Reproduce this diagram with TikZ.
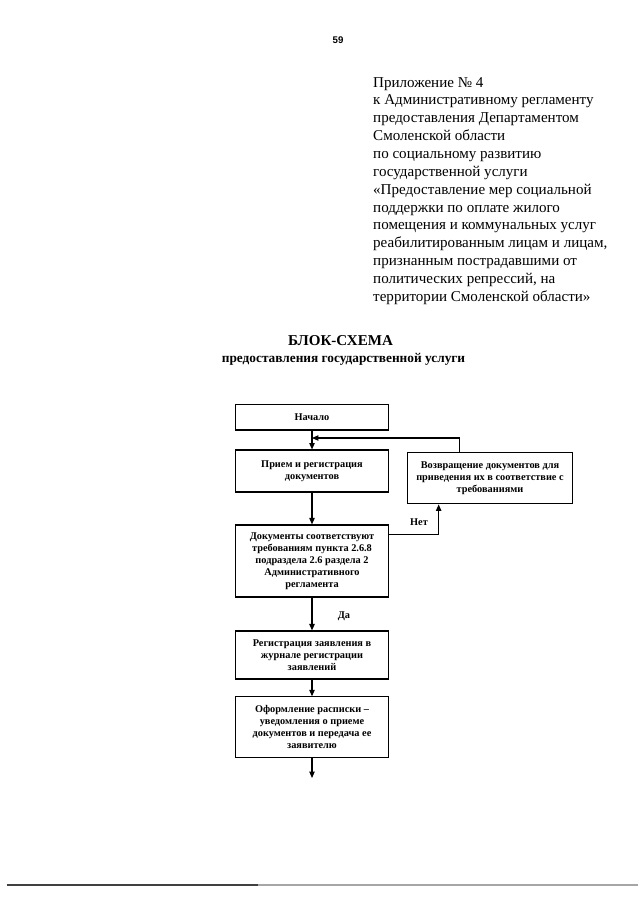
\documentclass[tikz,border=0pt]{standalone}
\usepackage{fontspec}
\setmainfont{Liberation Serif}
\newfontfamily\pagenumfont{Liberation Sans}
\usetikzlibrary{arrows.meta,positioning,calc}
\begin{document}
\begin{tikzpicture}[x=0.9301pt,y=-0.9301pt,
  box/.style={draw,line width=1.1pt,rectangle,inner sep=2pt,align=center,
    font=\fontsize{9.6}{11.2}\selectfont\bfseries,minimum width=142pt},
  arr/.style={line width=1pt,-{Triangle[length=6pt,width=5pt]}},
  lbl/.style={font=\fontsize{9.6}{12}\selectfont\bfseries,inner sep=0pt}]
\useasboundingbox (0,0) rectangle (640,905);
\fill[white] (0,0) rectangle (640,905);

% page number
\node[font=\pagenumfont\fontsize{9}{10}\selectfont\bfseries,inner sep=0pt] (pnum) at (338,40) {59};

% appendix text
\node[anchor=north west,inner sep=0pt,align=left,font=\fontsize{14}{16.6}\selectfont] (appx) at (373,77)
{Приложение № 4\\
к Административному регламенту\\
предоставления Департаментом\\
Смоленской области\\
по социальному развитию\\
государственной услуги\\
«Предоставление мер социальной\\
поддержки по оплате жилого\\
помещения и коммунальных услуг\\
реабилитированным лицам и лицам,\\
признанным пострадавшими от\\
политических репрессий, на\\
территории Смоленской области»};

% title
\node[font=\fontsize{14}{16}\selectfont\bfseries,inner sep=0pt] (title) at (340.5,341) {БЛОК-СХЕМА};
\node[font=\fontsize{12.4}{14}\selectfont\bfseries,inner sep=0pt] (subtitle) at (343.5,359) {предоставления государственной услуги};

% boxes
\node[box,minimum height=24pt] (start) at (312,417) {Начало};
\node[box,minimum height=39pt] (recv) at (312,471) {Прием и регистрация\\документов};
\node[box,minimum height=48pt,minimum width=154pt] (ret) at (490,478) {Возвращение документов для\\приведения их в соответствие с\\требованиями};
\node[box,minimum height=67pt] (check) at (312,561) {Документы соответствуют\\требованиям пункта 2.6.8\\подраздела 2.6 раздела 2\\Административного\\регламента};
\node[box,minimum height=44.6pt] (reg) at (312,655) {Регистрация заявления в\\журнале регистрации\\заявлений};
\node[box,minimum height=56pt] (rcpt) at (312,727) {Оформление расписки –\\уведомления о приеме\\документов и передача ее\\заявителю};

\coordinate (fb) at (312,438);
\coordinate (endpt) at (312,778);

% connectors
\draw[arr] (start) -- (recv);
\draw[arr] ([xshift=-28pt]ret.north) |- (fb);
\draw[arr] (recv) -- (check);
\draw[arr] ([yshift=-9.5pt]check.north east) -| ([xshift=29.8pt]ret.south west);
\draw[arr] (check) -- (reg);
\draw[arr] (reg) -- (rcpt);
\draw[arr] (rcpt) -- (endpt);

% labels
\node[lbl] (no) at (419,522) {Нет};
\node[lbl] (yes) at (344,616) {Да};

% bottom rule
\draw[line width=1pt,black!75] (7,885) -- (258,885);
\draw[line width=1pt,black!35] (258,885) -- (638,885);
\end{tikzpicture}
\end{document}
